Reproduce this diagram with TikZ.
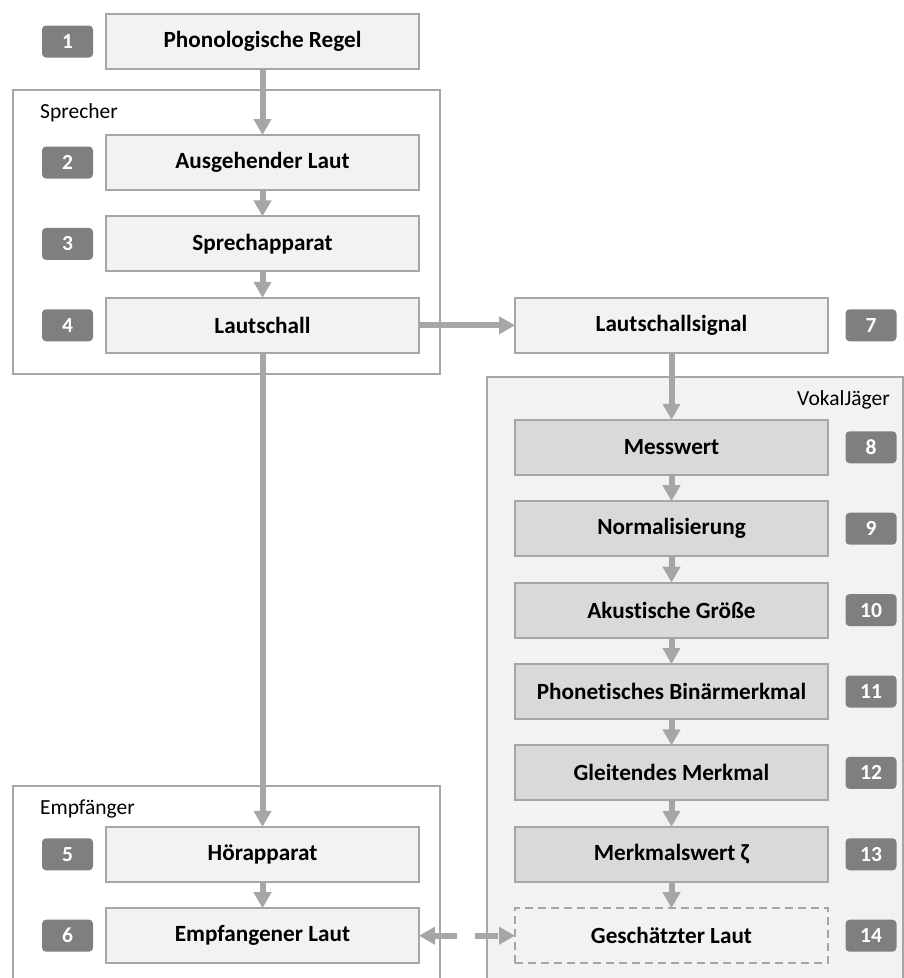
\documentclass[tikz,border=0pt]{standalone}
\usepackage{fontspec}
\setmainfont{Carlito}[Ligatures=NoCommon]
\usepackage{xcolor}
\usepackage{tikz}
\usetikzlibrary{arrows.meta,positioning}

\definecolor{linegray}{HTML}{A6A6A6}
\definecolor{boxfill}{HTML}{F2F2F2}
\definecolor{vjfill}{HTML}{D9D9D9}
\definecolor{badgegray}{HTML}{7F7F7F}

\begin{document}
\begin{tikzpicture}[
    x=1pt, y=-1pt,
    node distance=26.4pt and 96pt,
    stage/.style={rectangle, draw=linegray, line width=2pt, fill=boxfill, minimum width=313pt, minimum height=55pt, inner sep=0pt, outer sep=0pt, font=\fontsize{23.2}{27}\selectfont\bfseries},
    vjstage/.style={stage, fill=vjfill},
    badge/.style={rectangle, fill=badgegray, rounded corners=4pt, minimum width=51pt, minimum height=32pt, inner sep=0pt, outer sep=0pt, text=white, font=\fontsize{21.5}{24}\selectfont\bfseries},
    group/.style={rectangle, draw=linegray, line width=1.5pt, anchor=north west, inner sep=0pt, outer sep=0pt},
    caption/.style={inner sep=0pt, font=\fontsize{21.5}{25}\selectfont},
    flow/.style={draw=linegray, line width=6pt, -{Triangle[width=17pt,length=16pt]}}
]
    \useasboundingbox (0,0) rectangle (904,978);

    \node [group, fill=white, minimum width=427pt, minimum height=284pt] (sprecher) at (13,90) {};
    \node [group, fill=white, minimum width=427pt, minimum height=230pt] (empfaenger) at (13,786) {};
    \node [group, fill=boxfill, minimum width=416pt, minimum height=640pt] (vokaljaeger) at (487,377) {};
    \node [caption, anchor=base west] (sprecherlabel) at (40,118) {Sprecher};
    \node [caption, anchor=base west] (empfaengerlabel) at (40,814) {Empfänger};
    \node [caption, anchor=base east] (vokaljaegerlabel) at (890,405) {VokalJäger};

    \node [stage] (regel) at (262.5,41.5) {Phonologische Regel};
    \node [stage, below=66pt of regel] (ausgehend) {Ausgehender Laut};
    \node [stage, below=of ausgehend] (apparat) {Sprechapparat};
    \node [stage, below=of apparat] (schall) {Lautschall};
    \node [stage, right=of schall] (signal) {Lautschallsignal};
    \node [vjstage, below=67pt of signal] (messwert) {Messwert};
    \node [vjstage, below=of messwert] (norm) {Normalisierung};
    \node [vjstage, below=of norm] (groesse) {Akustische Größe};
    \node [vjstage, below=of groesse] (binaer) {Phonetisches Binärmerkmal};
    \node [vjstage, below=of binaer] (gleitend) {Gleitendes Merkmal};
    \node [vjstage, below=of gleitend] (zeta) {Merkmalswert ζ};
    \node [stage, dash pattern=on 8pt off 5pt, below=of zeta] (geschaetzt) {Geschätzter Laut};
    \node [stage] (hoer) at (schall |- zeta) {Hörapparat};
    \node [stage, below=of hoer] (empfangen) {Empfangener Laut};

    \foreach \n/\s in {1/regel, 2/ausgehend, 3/apparat, 4/schall, 5/hoer, 6/empfangen}
        \node [badge, left=13pt of \s] (badge\n) {\n};
    \foreach \n/\s in {7/signal, 8/messwert, 9/norm, 10/groesse, 11/binaer, 12/gleitend, 13/zeta, 14/geschaetzt}
        \node [badge, right=17.5pt of \s] (badge\n) {\n};

    \foreach \a/\b in {regel/ausgehend, ausgehend/apparat, apparat/schall, schall/hoer, hoer/empfangen, schall/signal, signal/messwert, messwert/norm, norm/groesse, groesse/binaer, binaer/gleitend, gleitend/zeta, zeta/geschaetzt}
        \draw [flow] (\a) -- (\b);
    \draw [flow, {Triangle[width=17pt,length=16pt]}-{Triangle[width=17pt,length=16pt]}, dash pattern=on 23pt off 18pt] (empfangen) -- (geschaetzt);
\end{tikzpicture}
\end{document}
